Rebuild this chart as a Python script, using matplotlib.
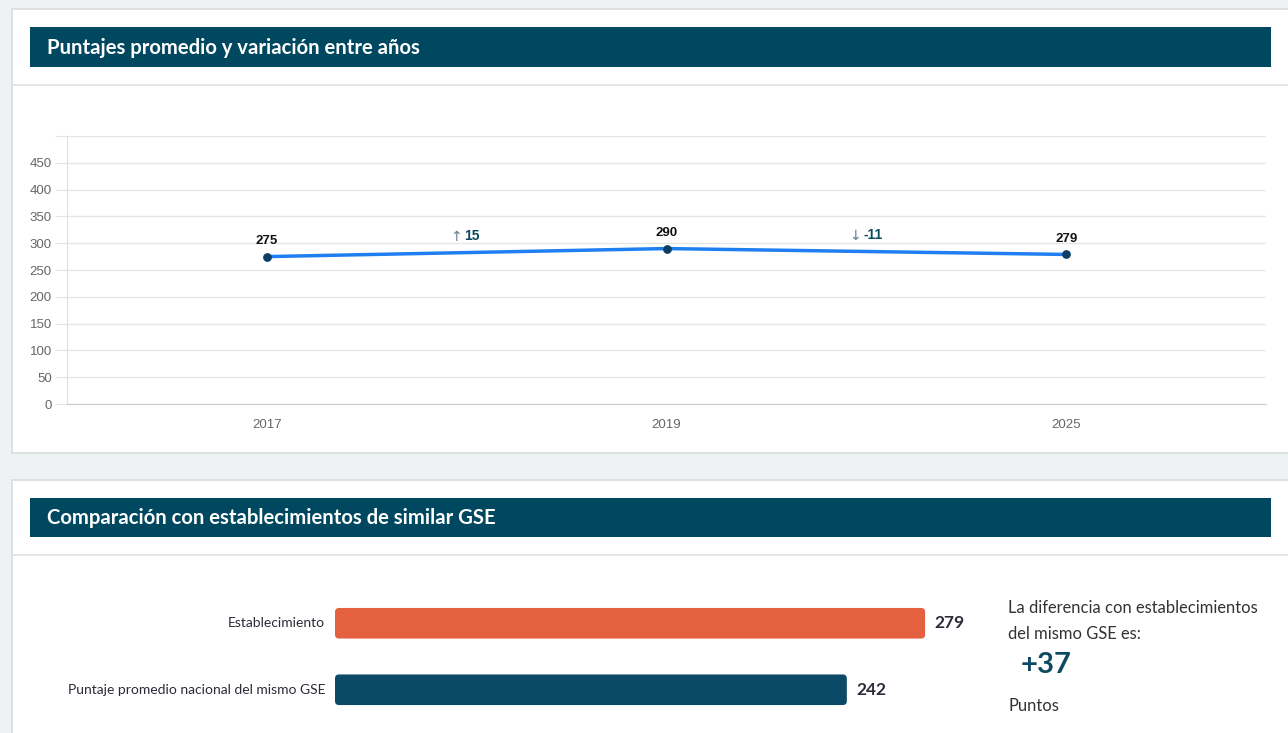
import matplotlib
matplotlib.use("Agg")
import matplotlib.pyplot as plt
from matplotlib.patches import Rectangle, FancyBboxPatch

# DATA
years = ["2017", "2019", "2025"]
scores = [275, 290, 279]
y_ticks = [0, 50, 100, 150, 200, 250, 300, 350, 400, 450]
variation_labels = ["\u2191", "\u2193"]

bar_labels = ["Establecimiento", "Puntaje promedio nacional del mismo GSE"]
bar_values = [279, 242]
bar_colors = ["#e5603e", "#0b4a66"]

title_1 = "Puntajes promedio y variación entre años"
title_2 = "Comparación con establecimientos de similar GSE"

W, H = 1288, 733
fig = plt.figure(figsize=(W / 100, H / 100), dpi=100)
fig.patch.set_facecolor("#eef2f3")

def fbox(x, y, w, h):
    # pixel box (top-left origin) -> figure fraction
    return [x / W, 1 - (y + h) / H, w / W, h / H]

def px(x, y):
    return x / W, 1 - y / H

HEAD = "#004860"
TEXTFONT = ["Lato", "DejaVu Sans"]
ARIAL = ["Liberation Sans", "DejaVu Sans"]

# CARDS
for (x, y, w, h) in [(12, 9, 1290, 444), (12, 480, 1290, 260)]:
    l, b, ww, hh = fbox(x, y, w, h)
    fig.patches.append(Rectangle((l, b), ww, hh, transform=fig.transFigure,
                                 facecolor="white", edgecolor="#d9dcdd", lw=1.2, zorder=-3))

# HEADERS + separators
for (y, h, sep, title) in [(27, 40, 85, title_1), (498, 39, 555, title_2)]:
    l, b, ww, hh = fbox(30, y, 1241, h)
    fig.patches.append(Rectangle((l, b), ww, hh, transform=fig.transFigure,
                                 facecolor=HEAD, edgecolor="none", zorder=-2))
    fig.text(*px(47, y + h / 2 + 1), title, color="white", fontsize=14.6, fontweight="bold",
             family=TEXTFONT, ha="left", va="center")
    fig.lines.append(plt.Line2D([12 / W, 1], [1 - sep / H] * 2, transform=fig.transFigure,
                                color="#e0e0e0", lw=1.2, zorder=-2))

# LINE CHART
ax = fig.add_axes(fbox(67, 136, 1199, 268))
ax.set_facecolor("none")
xs = range(len(years))
ax.plot(xs, scores, color="#1f7ff0", lw=2.5, zorder=3)
ax.scatter(xs, scores, s=28, color="#0d3e66", zorder=4)
ax.set_xlim(-0.5, len(years) - 0.5)
ax.set_ylim(0, 500)
ax.set_yticks(y_ticks + [500])
ax.set_yticklabels([str(t) for t in y_ticks] + [""])
ax.set_xticks(list(xs))
ax.set_xticklabels(years)
ax.grid(axis="y", color="#e6e6e6", lw=1)
ax.set_axisbelow(True)
for s in ["top", "right"]:
    ax.spines[s].set_visible(False)
ax.spines["left"].set_color("#e0e0e0")
ax.spines["bottom"].set_color("#cccccc")
ax.tick_params(axis="y", length=9, color="#e6e6e6", labelsize=9.5, labelcolor="#666666", pad=2)
ax.tick_params(axis="x", length=0, labelsize=9.5, labelcolor="#666666", pad=11)
for lab in ax.get_xticklabels() + ax.get_yticklabels():
    lab.set_family(ARIAL)

for i, v in enumerate(scores):
    ax.annotate(str(v), (i, v), xytext=(0, 7), textcoords="offset points", ha="center",
                va="bottom", fontsize=9.5, fontweight="bold", color="#111111", family=ARIAL)
for i in range(len(scores) - 1):
    d = scores[i + 1] - scores[i]
    arrow = variation_labels[0] if d > 0 else variation_labels[1]
    xm = i + 0.5
    ym = (scores[i] + scores[i + 1]) / 2
    ax.annotate(arrow, (xm, ym), xytext=(-8, 6), textcoords="offset points", ha="center",
                va="bottom", fontsize=10, color="#5f7f8c", family=["DejaVu Sans"])
    ax.annotate(f"{d}", (xm, ym), xytext=(-2, 7), textcoords="offset points", ha="left",
                va="bottom", fontsize=10, fontweight="bold", color="#0b4a60", family=ARIAL)

# BAR CHART
bx = fig.add_axes(fbox(335, 590, 634.5, 133))
bx.set_facecolor("none")
ypos = [0, 1]
bars = bx.barh(ypos, bar_values, height=0.46, color=bar_colors)
bx.set_xlim(0, 300)
bx.set_ylim(1.5, -0.5)
bx.axis("off")
# rounded corners
x_per_px = 300 / 634.5
y_per_px = 2.0 / 133
for b in bars:
    b.set_visible(False)
    r = 4 * x_per_px
    bx.add_patch(FancyBboxPatch((b.get_x(), b.get_y()), b.get_width(), b.get_height(),
                                boxstyle=f"round,pad=0,rounding_size={r}",
                                mutation_aspect=y_per_px / x_per_px,
                                facecolor=b.get_facecolor(), edgecolor="none"))
for y, lab, v in zip(ypos, bar_labels, bar_values):
    bx.annotate(lab, (0, y), xytext=(-7, 0), textcoords="offset points", ha="right",
                va="center", fontsize=10, color="#2b2b3a", family=TEXTFONT)
    bx.annotate(str(v), (v, y), xytext=(7, 0), textcoords="offset points", ha="left",
                va="center", fontsize=12.5, fontweight="bold", color="#2b2b3a", family=TEXTFONT)

diff = bar_values[0] - bar_values[1]
fig.text(*px(1008, 608), "La diferencia con establecimientos", fontsize=11.9, color="#333333",
         family=TEXTFONT, ha="left", va="center")
fig.text(*px(1008, 634), "del mismo GSE es:", fontsize=11.9, color="#333333",
         family=TEXTFONT, ha="left", va="center")
fig.text(*px(1021, 665), f"+{diff}", fontsize=21, fontweight="bold", color="#0b4a60",
         family=TEXTFONT, ha="left", va="center")
fig.text(*px(1008, 706), "Puntos", fontsize=11.9, color="#333333",
         family=TEXTFONT, ha="left", va="center")

fig.savefig("out.png", dpi=100, facecolor=fig.get_facecolor())
